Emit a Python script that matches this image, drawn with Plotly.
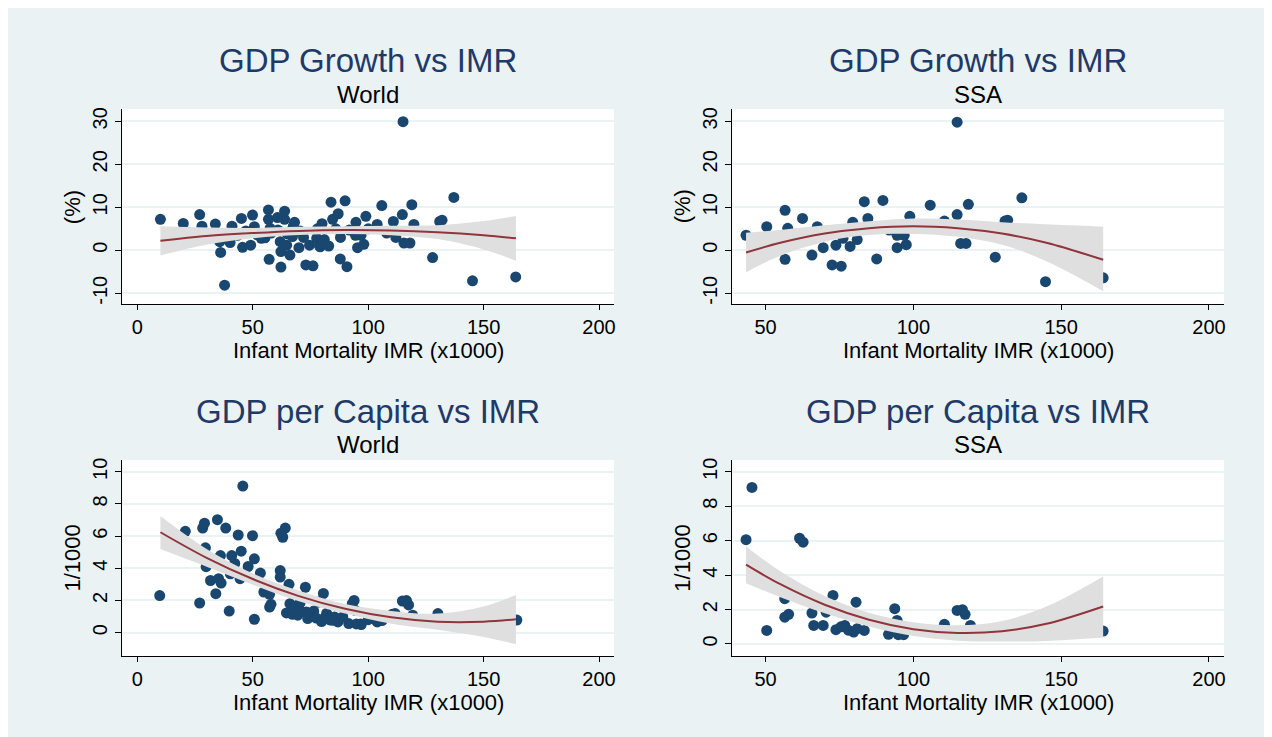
import plotly.graph_objects as go

W, H = 1260, 729
FONT = "Liberation Sans, Arial, Helvetica, sans-serif"
NAVY = "#1a476f"
MAROON = "#90353b"
BAND = "#dfdfdf"
GRID = "#eaf2f3"
BG = "#eaf2f3"
TITLE_COLOR = "#1f3a68"

# ---------------- data: GDP growth (%) vs IMR, World ----------------
world_gr_imr = [10, 19.9, 27, 28, 33.8, 35.7, 36.1, 37.8, 40.2, 41, 43.4, 45.1, 45.6, 47,
                49.1, 49.9, 50.7, 52, 53.7, 55.3, 56.8, 56.8, 57.1, 57.5, 58, 60.7, 60.9,
                61.9, 62.2, 62.2, 63.8, 63.8, 64.7, 65, 66.1, 67.2, 67.5, 68.1, 70, 70.5,
                72, 73, 74.6, 76.1, 77.7, 78, 78.9, 79.2, 80, 81, 82.9, 83.9, 84.6, 86,
                87, 87.9, 88, 90, 90.8, 91.8, 94.7, 94.5, 95.4, 96.9, 98.1, 99, 100,
                103.9, 105.9, 108, 110.9, 112, 114.8, 115.1, 115.5, 118.1, 118.9, 119.8,
                127.9, 131, 132, 137.1, 145.2, 163.9]
world_gr = [7.2, 6.25, 8.3, 5.6, 6.1, 2.0, -0.5, -8.1, 1.8, 5.6, 3.5, 7.4, 0.7, 4.5,
            1.2, 8.2, 5.5, 3.6, 2.8, 2.9, 9.4, 7.2, -2.1, 5.1, 4.0, 7.6, 4.7,
            2.0, -0.3, -3.9, 9.1, 7.2, 1.2, 3.8, -1.1, 3.2, 5.5, 6.5, 0.6, 4.5,
            3.0, -3.4, 1.2, -3.6, 2.8, 5.0, 1.1, 0.8, 6.2, 2.5, 1.0, 11.2, 7.2, 5.0,
            8.5, -2.0, 3.0, 11.5, -3.8, 4.7, 6.5, 3.5, 0.6, 3.5, 1.4, 7.9, 5.0,
            6.0, 10.4, 4.0, 6.7, 3.0, 8.3, 29.9, 1.7, 1.7, 10.6, 6.0,
            -1.7, 6.7, 7.0, 12.3, -7.1, -6.2]

# ---------------- GDP growth (%) vs IMR, SSA ----------------
ssa_gr_imr = [43.4, 50.4, 56.6, 56.6, 57.5, 62.5, 65.7, 67.5, 69.5, 72.5, 73.8, 75.6,
              76.2, 78.6, 79.5, 81, 83.4, 84.6, 87.6, 89.7, 91.8, 94.5, 94.5, 96.9,
              97.6, 98.8, 105.7, 110.5, 114.8, 114.8, 116, 117.8, 118.6, 127.7, 131,
              131.9, 136.7, 144.7, 164.2]
ssa_gr = [3.5, 5.5, 9.3, -2.1, 5.1, 7.4, -1.1, 5.5, 0.6, -3.4, 1.2, -3.7,
          2.8, 0.9, 6.5, 2.5, 11.3, 7.4, -2.0, 11.6, 4.7, 0.6, 3.5, 3.5,
          1.3, 7.9, 10.5, 6.8, 8.3, 29.8, 1.6, 1.6, 10.7, -1.6, 6.8,
          7.0, 12.2, -7.3, -6.4]

# ---------------- GDP per capita (1/1000) vs IMR, World ----------------
world_pc_imr = [9.7, 20.8, 27, 28.3, 29.1, 29.5, 29.8, 31.7, 34, 34.7, 35.2, 36, 36.3,
                38.3, 39.8, 40.3, 40.9, 42.2, 43.7, 44.5, 45, 45.7, 48, 49.9, 50.7, 50.7,
                53.3, 54.8, 56.5, 57.3, 57.3, 57.9, 61.9, 61.9, 62.2, 63, 64.1, 64.6,
                65.7, 66.1, 67.2, 68.4, 69.5, 70.3, 70.5, 72.8, 73.2, 73.8, 75.5, 76.4,
                77.5, 78.5, 79.8, 80.6, 81, 82, 83.4, 84.7, 85.4, 86.9, 89, 91.6, 93.1,
                93.9, 94.5, 94.9, 96.7, 97, 100, 103.9, 106, 110.5, 111.7, 114.8, 116.6,
                117.5, 119.3, 121, 130.2, 164.4]
world_pc = [2.3, 6.3, 1.84, 6.5, 6.8, 5.27, 4.1, 3.24, 2.42, 7.02, 3.35, 4.79, 3.08,
            6.5, 1.34, 3.66, 4.79, 4.3, 6.07, 3.35, 5.06, 9.11, 4.11, 6.03, 4.59, 0.83,
            3.7, 2.52, 2.63, 2.38, 1.59, 1.76, 3.86, 3.45, 6.18, 5.93, 6.5, 1.22,
            3.0, 1.8, 1.14, 1.59, 1.08, 1.38, 1.85, 2.82, 1.28, 0.87, 1.1, 1.34,
            0.9, 1.9, 0.69, 2.43, 0.89, 1.2, 0.79, 0.76, 0.97, 0.66, 0.97, 0.56, 1.8,
            2.0, 1.37, 0.54, 0.54, 0.5, 0.8, 0.66, 0.75, 1.14, 1.18, 1.96, 1.99,
            1.72, 1.08, 0.8, 1.18, 0.78]

# ---------------- GDP per capita (1/1000) vs IMR, SSA ----------------
ssa_pc_imr = [43.4, 45.4, 50.4, 56.5, 56.5, 57.8, 61.5, 62.7, 65.7, 66.3, 69.5, 70.5,
              72.8, 73.8, 75.5, 76.8, 78, 79.8, 80.6, 81, 83.4, 91.6, 93.7, 94.5, 94.9,
              96.7, 98, 110.5, 114.8, 116.6, 117.5, 119.3, 164.2]
ssa_pc = [6.06, 9.09, 0.79, 2.63, 1.56, 1.72, 6.14, 5.91, 1.8, 1.08, 1.08, 1.85,
          2.82, 0.83, 1.0, 1.08, 0.8, 0.69, 2.43, 0.89, 0.79, 0.56, 2.05, 1.37, 0.54,
          0.54, 0.9, 1.14, 1.95, 1.99, 1.72, 1.08, 0.75]

# ---------------- quadratic fits with 95% CI ----------------
fit_wg_x = [10, 30, 50, 70, 90, 110, 130, 150, 164]
fit_wg = [2.2, 3.3, 4.0, 4.5, 4.7, 4.6, 4.2, 3.5, 2.8]
fit_wg_lo = [-1.2, 1.3, 2.8, 3.55, 3.8, 3.5, 2.6, 0.2, -2.4]
fit_wg_hi = [5.6, 5.3, 5.2, 5.45, 5.6, 5.7, 5.8, 6.8, 8.0]

fit_sg_x = [43.4, 55, 70, 85, 100, 115, 130, 145, 164.2]
fit_sg = [-0.5, 1.75, 3.9, 5.15, 5.6, 5.15, 3.9, 1.75, -2.2]
fit_sg_lo = [-5.1, -1.25, 2.0, 3.55, 3.8, 3.15, 1.3, -2.55, -9.5]
fit_sg_hi = [4.1, 4.75, 5.8, 6.75, 7.4, 7.15, 6.5, 6.05, 5.5]

fit_wp_x = [10, 30, 50, 70, 90, 110, 130, 150, 164]
fit_wp = [6.24, 4.65, 3.33, 2.27, 1.48, 0.95, 0.68, 0.68, 0.83]
fit_wp_lo = [5.2, 4.1, 2.98, 1.95, 1.18, 0.55, 0.18, -0.27, -0.72]
fit_wp_hi = [7.25, 5.2, 3.68, 2.6, 1.78, 1.35, 1.18, 1.63, 2.33]

fit_sp_x = [43.4, 55, 70, 85, 100, 115, 130, 145, 164.2]
fit_sp = [4.61, 3.47, 2.28, 1.41, 0.86, 0.64, 0.74, 1.17, 2.18]
fit_sp_lo = [3.53, 2.72, 1.78, 1.01, 0.46, 0.19, 0.14, 0.17, 0.37]
fit_sp_hi = [5.66, 4.22, 2.78, 1.81, 1.26, 1.09, 1.34, 2.17, 3.92]

# ---------------- labels ----------------
titles = ["GDP Growth vs IMR", "GDP Growth vs IMR", "GDP per Capita vs IMR", "GDP per Capita vs IMR"]
subtitles = ["World", "SSA", "World", "SSA"]
x_title = "Infant Mortality IMR (x1000)"
y_titles = ["(%)", "(%)", "1/1000", "1/1000"]
x_ticks_world = [0, 50, 100, 150, 200]
x_ticks_ssa = [50, 100, 150, 200]
y_ticks_growth = [-10, 0, 10, 20, 30]
y_ticks_pc = [0, 2, 4, 6, 8, 10]

# ---------------- layout geometry (figure pixels) ----------------
LEFT_COL = (114.5, 607)
RIGHT_COL = (725.6, 1218)
TOP_ROW = (99.3, 295.3)
BOT_ROW = (451.3, 648)

panels = [
    dict(xs=world_gr_imr, ys=world_gr, fx=fit_wg_x, fy=fit_wg, lo=fit_wg_lo, hi=fit_wg_hi,
         col=LEFT_COL, row=TOP_ROW, xr=[-6.5, 206.5], yr=[-12.6, 32.85],
         xt=x_ticks_world, yt=y_ticks_growth),
    dict(xs=ssa_gr_imr, ys=ssa_gr, fx=fit_sg_x, fy=fit_sg, lo=fit_sg_lo, hi=fit_sg_hi,
         col=RIGHT_COL, row=TOP_ROW, xr=[38.8, 205.1], yr=[-12.6, 32.85],
         xt=x_ticks_ssa, yt=y_ticks_growth),
    dict(xs=world_pc_imr, ys=world_pc, fx=fit_wp_x, fy=fit_wp, lo=fit_wp_lo, hi=fit_wp_hi,
         col=LEFT_COL, row=BOT_ROW, xr=[-6.5, 206.5], yr=[-1.47, 10.73],
         xt=x_ticks_world, yt=y_ticks_pc),
    dict(xs=ssa_pc_imr, ys=ssa_pc, fx=fit_sp_x, fy=fit_sp, lo=fit_sp_lo, hi=fit_sp_hi,
         col=RIGHT_COL, row=BOT_ROW, xr=[38.8, 205.1], yr=[-0.71, 10.68],
         xt=x_ticks_ssa, yt=y_ticks_pc),
]


def px_x(v):
    return v / W


def px_y(v):
    return 1 - v / H


fig = go.Figure()
annotations = []
layout_axes = {}

for i, p in enumerate(panels, start=1):
    sfx = "" if i == 1 else str(i)
    xa, ya = "x" + sfx, "y" + sfx
    common = dict(xaxis=xa, yaxis=ya, showlegend=False, hoverinfo="skip")
    fig.add_trace(go.Scatter(x=p["xs"], y=p["ys"], mode="markers",
                             marker=dict(color=NAVY, size=11, line=dict(width=0)), **common))
    fig.add_trace(go.Scatter(x=p["fx"], y=p["lo"], mode="lines",
                             line=dict(width=0, color=BAND, shape="spline"), **common))
    fig.add_trace(go.Scatter(x=p["fx"], y=p["hi"], mode="lines", fill="tonexty",
                             fillcolor=BAND, line=dict(width=0, color=BAND, shape="spline"),
                             **common))
    fig.add_trace(go.Scatter(x=p["fx"], y=p["fy"], mode="lines",
                             line=dict(width=2, color=MAROON, shape="spline"), **common))

    x0, x1 = p["col"]
    y0, y1 = p["row"]
    layout_axes["xaxis" + sfx] = dict(
        domain=[px_x(x0), px_x(x1)], range=p["xr"], anchor=ya,
        tickvals=p["xt"], ticktext=[str(t) for t in p["xt"]],
        ticks="outside", ticklen=5, tickwidth=1, tickcolor="black",
        showline=True, linecolor="black", linewidth=1, showgrid=False, zeroline=False,
        tickfont=dict(family=FONT, size=20, color="black"), fixedrange=True)
    layout_axes["yaxis" + sfx] = dict(
        domain=[px_y(y1), px_y(y0)], range=p["yr"], anchor=xa,
        tickvals=p["yt"], ticktext=[str(t) for t in p["yt"]],
        ticks="outside", ticklen=6, tickwidth=1, tickcolor="black", tickangle=-90,
        showline=True, linecolor="black", linewidth=1, showgrid=True,
        gridcolor=GRID, gridwidth=2, zeroline=False,
        tickfont=dict(family=FONT, size=20, color="black"), fixedrange=True)

    cx = (x0 + x1) / 2
    cy = (y0 + y1) / 2
    top = y0 < 300
    title_y = 51 if top else 403
    sub_y = 85 if top else 436
    xt_y = y1 + 46
    annotations.append(dict(text=titles[i - 1], x=px_x(cx), y=px_y(title_y), xref="paper",
                            yref="paper", showarrow=False, xanchor="center", yanchor="middle",
                            font=dict(family=FONT, size=33, color=TITLE_COLOR)))
    annotations.append(dict(text=subtitles[i - 1], x=px_x(cx), y=px_y(sub_y), xref="paper",
                            yref="paper", showarrow=False, xanchor="center", yanchor="middle",
                            font=dict(family=FONT, size=24, color="black")))
    annotations.append(dict(text=x_title, x=px_x(cx), y=px_y(xt_y), xref="paper",
                            yref="paper", showarrow=False, xanchor="center", yanchor="middle",
                            font=dict(family=FONT, size=22, color="black")))
    annotations.append(dict(text=y_titles[i - 1], x=px_x(x0 - 50), y=px_y(cy), xref="paper",
                            yref="paper", showarrow=False, xanchor="center", yanchor="middle",
                            textangle=-90, font=dict(family=FONT, size=22, color="black")))

fig.update_layout(
    width=W, height=H, autosize=False,
    margin=dict(l=0, r=0, t=0, b=0, pad=0),
    paper_bgcolor=BG, plot_bgcolor="white",
    font=dict(family=FONT, color="black"),
    annotations=annotations,
    **layout_axes,
)

fig.write_html("out.html")
